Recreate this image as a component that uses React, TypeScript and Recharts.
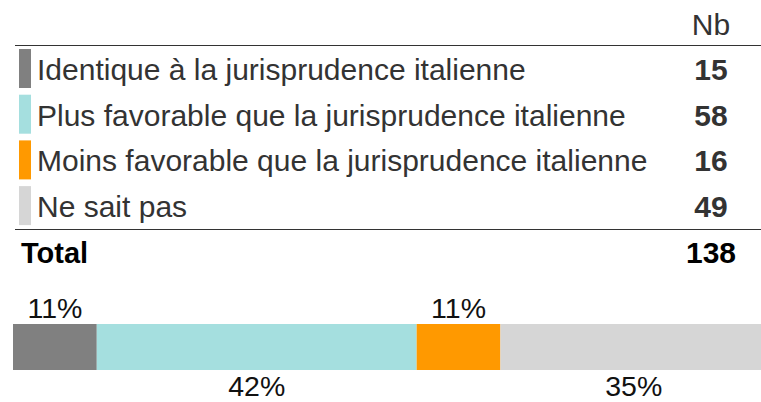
import { BarChart, Bar, XAxis, YAxis, LabelList } from "recharts";

const categories = [
  "Identique à la jurisprudence italienne",
  "Plus favorable que la jurisprudence italienne",
  "Moins favorable que la jurisprudence italienne",
  "Ne sait pas",
];
const counts = [15, 58, 16, 49];
const percents = [11, 42, 11, 35];
const colors = ["#808080", "#a5dfdf", "#ff9900", "#d6d6d6"];
const keys = ["identique", "plus", "moins", "nsp"];

const total = counts.reduce((a, b) => a + b, 0);
const pctSum = percents.reduce((a, b) => a + b, 0);

// one row, one key per segment
const barRow: Record<string, number | string> = { name: "all" };
keys.forEach((k, i) => {
  barRow[k] = percents[i];
});

const FONT = "'Liberation Sans', Arial, Helvetica, sans-serif";
const FS = 30;

function PctLabel(props: any, above: boolean) {
  const { x, y, width, height, value } = props;
  const cx = x + width / 2;
  const ty = above ? y - 6 : y + height + 26;
  return (
    <text x={cx} y={ty} textAnchor="middle" fontSize={28.5} fontFamily={FONT} fill="#111">
      {value}%
    </text>
  );
}

function SummaryTable() {
  const rowY = (i: number) => 80 + i * 45.7;
  return (
    <svg width={761} height={280} style={{ position: "absolute", left: 0, top: 0 }}>
      <g fontFamily={FONT} fontSize={FS}>
        <text x={711} y={35} textAnchor="middle" fill="#333">Nb</text>
        <line x1={15} x2={761} y1={45.5} y2={45.5} stroke="#333" strokeWidth={1.2} />
        {categories.map((c, i) => (
          <g key={c}>
            <rect x={19} y={49 + i * 45.7} width={12} height={39} fill={colors[i]} />
            <text x={37} y={rowY(i)} fill="#333">{c}</text>
            <text x={711} y={rowY(i)} textAnchor="middle" fill="#333" fontWeight="bold">
              {counts[i]}
            </text>
          </g>
        ))}
        <line x1={15} x2={761} y1={229.5} y2={229.5} stroke="#333" strokeWidth={1.2} />
        <text x={21} y={263} fill="#000" fontWeight="bold" fontSize={29}>Total</text>
        <text x={711} y={263} textAnchor="middle" fill="#000" fontWeight="bold">{total}</text>
      </g>
    </svg>
  );
}

export default function App() {
  return (
    <div
      style={{
        position: "absolute",
        left: 0,
        top: 0,
        width: 761,
        height: 402,
        overflow: "hidden",
        background: "#fff",
      }}
    >
      <SummaryTable />
      <div style={{ position: "absolute", left: 0, top: 280 }}>
        <BarChart
          width={787}
          height={122}
          data={[barRow]}
          layout="vertical"
          margin={{ top: 41, right: 20, bottom: 30, left: 13 }}
          barCategoryGap={0}
        >
          <XAxis type="number" domain={[0, pctSum]} hide />
          <YAxis type="category" dataKey="name" hide />
          {keys.map((k, i) => (
            <Bar
              key={k}
              dataKey={k}
              stackId="s"
              fill={colors[i]}
              barSize={51}
              isAnimationActive={false}
            >
              <LabelList dataKey={k} content={(p: any) => PctLabel(p, i % 2 === 0)} />
            </Bar>
          ))}
        </BarChart>
      </div>
    </div>
  );
}
